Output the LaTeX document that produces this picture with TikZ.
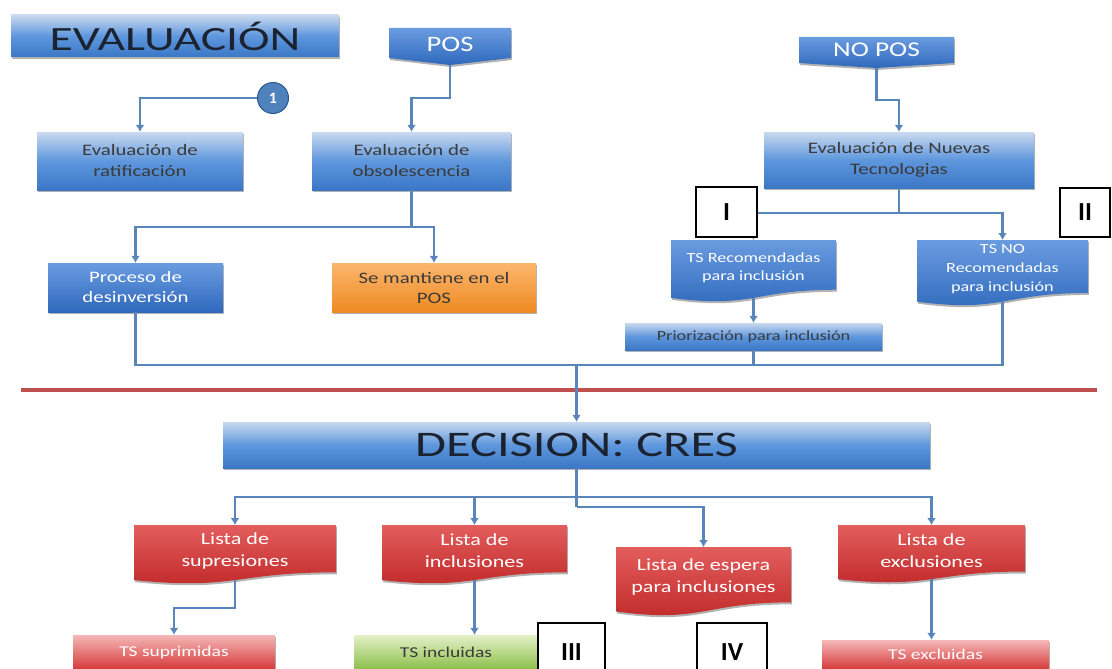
\documentclass[tikz,border=0pt]{standalone}
\usepackage{fontspec}
\usetikzlibrary{arrows.meta,shadows}
\newfontfamily\smf[FakeStretch=1.3]{Carlito}
\newfontfamily\bgf[FakeStretch=1.4]{Carlito}
\newfontfamily\rnf{Carlito}
\definecolor{connc}{HTML}{5A85BA}
\definecolor{bluetop}{HTML}{C9D9EF}
\definecolor{bluemid}{HTML}{5E97DD}
\definecolor{bluebot}{HTML}{3B77C6}
\definecolor{dbtop}{HTML}{6A9BE0}
\definecolor{dbbot}{HTML}{2F69BC}
\definecolor{redtop}{HTML}{E35D5D}
\definecolor{redbot}{HTML}{BF2727}
\definecolor{ltredtop}{HTML}{F5B8B8}
\definecolor{ltredbot}{HTML}{D63A3A}
\definecolor{grtop}{HTML}{E4F0C8}
\definecolor{grbot}{HTML}{8DC04B}
\definecolor{ortop}{HTML}{FCB66E}
\definecolor{orbot}{HTML}{EE8A22}
\definecolor{txtdark}{HTML}{3A3A3A}
\definecolor{titletxt}{HTML}{1C2330}
\definecolor{sepc}{HTML}{C0504D}
\definecolor{circfill}{HTML}{4F81BD}
\definecolor{circdraw}{HTML}{2C5A8F}
\newcommand\docshape[8]{% name, x1, y1, x2, H, fill style, text style, text
  \pgfmathsetmacro\dxm{(#2+#4)/2}
  \pgfmathsetmacro\dya{#3+0.802*#5}
  \pgfmathsetmacro\dyb{#3+1.107*#5}
  \pgfmathsetmacro\dyc{#3+0.934*#5}
  \pgfmathsetmacro\dyt{#3+0.44*#5}
  \pgfmathsetmacro\dys{#3+0.93*#5}
  \path[#6] (#2,#3) -- (#4,#3) -- (#4,\dya) .. controls (\dxm,\dya) and (\dxm,\dyb) .. (#2,\dyc) -- cycle;
  \node[#7] (#1) at (\dxm,\dyt) {#8};
  \coordinate (#1-n) at (\dxm,#3);
  \coordinate (#1-s) at (\dxm,\dys);
}
\tikzset{
  shad/.style={drop shadow={shadow xshift=0.8pt, shadow yshift=-2pt, opacity=0.3, fill=black}},
  conn/.style={draw=connc, line width=2.4pt},
  arr/.style={conn, -{Latex[length=7pt,width=9pt]}},
  boxbase/.style={rectangle, inner sep=0pt, align=center, shad},
  lightblue/.style={boxbase, top color=bluetop, bottom color=bluebot, middle color=bluemid, text=txtdark,
    font=\smf\fontsize{16}{21}\selectfont},
  darkblue/.style={boxbase, top color=dbtop, bottom color=dbbot, text=white,
    font=\smf\fontsize{16}{20}\selectfont},
  titlebox/.style={boxbase, top color=bluetop, bottom color=bluebot, middle color=bluemid, text=titletxt},
  orangebox/.style={boxbase, top color=ortop, bottom color=orbot, text=txtdark,
    font=\smf\fontsize{16}{20}\selectfont},
  resbox/.style={boxbase, text=white, font=\smf\fontsize{15}{18}\selectfont},
  dbfill/.style={shad, top color=dbtop, bottom color=dbbot},
  redfill/.style={shad, top color=redtop, bottom color=redbot},
  wtext/.style={text=white, align=center, inner sep=0pt},
  rnbox/.style={rectangle, draw=black, line width=1.3pt, fill=white, inner sep=0pt,
    font=\rnf\bfseries\fontsize{26}{28}\selectfont},
  circ/.style={circle, fill=circfill, draw=circdraw, line width=1pt, minimum size=31pt, inner sep=0pt,
    text=white, font=\rnf\bfseries\fontsize{16}{18}\selectfont},
  sepline/.style={draw=sepc, line width=3.5pt}
}
\begin{document}
\begin{tikzpicture}[x=1pt,y=-1pt]
\useasboundingbox (0,0) rectangle (1112,669);
\clip (0,0) rectangle (1112,669);
% ---- top area
\node[titlebox, minimum width=328pt, minimum height=42pt] (eval) at (175,36)
  {\bgf\fontsize{34}{38}\selectfont EVALUACIÓN};
\path[dbfill] (389,28) -- (511,28) -- (511,58) -- (450,65) -- (389,58) -- cycle;
\node[wtext, font=\smf\fontsize{22}{24}\selectfont] (pos) at (450,44) {POS};
\coordinate (posTip) at (450,65);
\path[dbfill] (799,37) -- (954,37) -- (954,63) -- (876.5,68) -- (799,63) -- cycle;
\node[wtext, font=\smf\fontsize{21}{24}\selectfont] (nopos) at (876.5,50) {NO POS};
\coordinate (noposTip) at (876.5,68);
\node[circ] (c1) at (273,98) {1};
\node[lightblue, minimum width=206pt, minimum height=58pt] (ratif) at (140,161) {Evaluación de\\ratificación};
\node[lightblue, minimum width=199pt, minimum height=58pt] (obsol) at (411.5,161) {Evaluación de\\obsolescencia};
\node[darkblue, minimum width=175pt, minimum height=49pt] (proceso) at (135.5,287.5) {Proceso de\\desinversión};
\node[orangebox, minimum width=204pt, minimum height=49pt] (semant) at (434,287.5) {Se mantiene en el\\POS};
\node[lightblue, minimum width=270pt, minimum height=56pt] (nt) at (899,160) {Evaluación de Nuevas\\Tecnologias};
\docshape{tsrec}{671}{240}{836}{62}{dbfill}{wtext, font=\smf\fontsize{14}{18}\selectfont}{TS Recomendadas\\para inclusión}
\docshape{tsno}{917}{240}{1088}{66}{dbfill}{wtext, font=\smf\fontsize{14}{19}\selectfont}{TS NO\\Recomendadas\\para inclusión}
\node[lightblue, minimum width=257pt, minimum height=27pt, font=\smf\fontsize{14}{16}\selectfont] (prio) at (753.5,336.5) {Priorización para inclusión};
% ---- separator
\coordinate (sepL) at (21,390);
\coordinate (sepR) at (1097,390);
\draw[sepline] (sepL) -- (sepR);
% ---- decision area
\node[titlebox, minimum width=707pt, minimum height=46pt] (decision) at (576.5,445)
  {\bgf\fontsize{36}{40}\selectfont DECISION: CRES};
\docshape{supr}{134}{525}{336}{59}{redfill}{wtext, font=\smf\fontsize{17}{22}\selectfont}{Lista de\\supresiones}
\docshape{incl}{382}{525}{567}{59}{redfill}{wtext, font=\smf\fontsize{17}{22}\selectfont}{Lista de\\inclusiones}
\docshape{esp}{616}{547}{791}{69}{redfill}{wtext, font=\smf\fontsize{17}{22}\selectfont}{Lista de espera\\para inclusiones}
\docshape{excl}{838}{525}{1025}{58}{redfill}{wtext, font=\smf\fontsize{17}{22}\selectfont}{Lista de\\exclusiones}
\node[resbox, top color=ltredtop, bottom color=ltredbot, minimum width=202pt, minimum height=34pt] (tssup) at (174,652) {TS suprimidas};
\node[resbox, top color=grtop, bottom color=grbot, text=txtdark, minimum width=184pt, minimum height=34pt] (tsinc) at (446,652) {TS incluidas};
\node[resbox, top color=ltredtop, bottom color=ltredbot, minimum width=227pt, minimum height=29pt] (tsexc) at (935.5,654.5) {TS excluidas};
% ---- connectors
\coordinate (j4) at (450,98);
\draw[arr] (c1.west) -| (ratif.north);
\draw[arr] (posTip) -- (j4) -| (obsol.north);
\coordinate (j1) at (411.5,227);
\draw[conn] (obsol.south) -- (j1);
\draw[arr] (j1) -| (proceso.north);
\draw[arr] (j1) -| (semant.north);
\coordinate (j3) at (876.5,100);
\draw[arr] (noposTip) -- (j3) -| (nt.north);
\coordinate (j2) at (899,213);
\draw[conn] (nt.south) -- (j2);
\draw[arr] (j2) -| (tsrec-n);
\draw[arr] (j2) -| (tsno-n);
\draw[arr] (tsrec-s) -- (prio.north);
\coordinate (m) at (576.5,365);
\draw[conn] (proceso.south) |- (m);
\draw[conn] (prio.south) |- (m);
\draw[conn] (tsno-s) |- (m);
\draw[arr] (m) -- (decision.north);
\coordinate (d1) at (576.5,497);
\coordinate (d2) at (576.5,507);
\draw[conn] (decision.south) -- (d2);
\draw[arr] (d1) -| (supr-n);
\draw[arr] (d1) -| (incl-n);
\draw[arr] (d1) -| (excl-n);
\draw[arr] (d2) -| (esp-n);
\coordinate (j5) at (235,608);
\draw[arr] (supr-s) -- (j5) -| (tssup.north);
\draw[arr] (incl-s) -- (incl-s |- tsinc.north);
\draw[arr] (excl-s) -- (excl-s |- tsexc.north);
% ---- roman numeral labels
\node[rnbox, minimum width=61pt, minimum height=50pt] (nI) at (726.5,212) {I};
\node[rnbox, minimum width=50pt, minimum height=49pt] (nII) at (1085,212.5) {II};
\node[rnbox, minimum width=67pt, minimum height=58pt] (nIII) at (571.5,652) {III};
\node[rnbox, minimum width=70pt, minimum height=58pt] (nIV) at (732,652) {IV};
\end{tikzpicture}
\end{document}
